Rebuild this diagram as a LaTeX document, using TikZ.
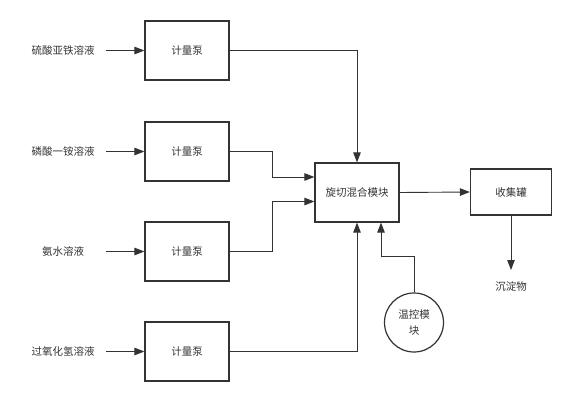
\documentclass[tikz,border=0pt]{standalone}
\usepackage{fontspec}
\setmainfont{Noto Sans CJK SC}
\usetikzlibrary{positioning,arrows.meta,calc}
\definecolor{ink}{HTML}{333333}

\begin{document}
\begin{tikzpicture}[
    x=1pt, y=-1pt,
    font=\fontsize{10.5}{13}\selectfont,
    box/.style={draw=ink, line width=1.2pt, text=ink, minimum width=84pt, minimum height=59pt, inner sep=0pt, align=center},
    src/.style={text=ink, minimum width=86pt, inner sep=0pt},
    arr/.style={-{Triangle[length=10pt, width=7.5pt]}, line width=0.9pt, draw=ink}
]
\useasboundingbox (0,0) rectangle (574,402);

% Feed solutions
\node[src] (s1) at (63,50.5) {硫酸亚铁溶液};
\node[src] (s2) at (63,151.5) {磷酸一铵溶液};
\node[src] (s3) at (63,251.5) {氨水溶液};
\node[src] (s4) at (63,351.5) {过氧化氢溶液};

% Metering pumps
\node[box] (p1) at (187,50.5) {计量泵};
\node[box] (p2) at (187,151.5) {计量泵};
\node[box] (p3) at (187,251.5) {计量泵};
\node[box] (p4) at (187,351.5) {计量泵};

% Mixer, tank, product
\node[box] (mix) at (357,192.5) {旋切混合模块};
\node[box, minimum width=81pt, minimum height=46pt] (tank) at (511,192) {收集罐};
\node[text=ink, anchor=north, inner xsep=0pt, inner ysep=11pt] (prod) at (511,270) {沉淀物};

% Temperature control
\node[circle, draw=ink, line width=1.2pt, text=ink, minimum size=59pt, inner sep=0pt, align=center,
      font=\fontsize{10.5}{16}\selectfont] (temp) at (414,322.5) {温控模\\块};

% Arrows
\draw[arr] (s1.east) -- (p1.west);
\draw[arr] (s2.east) -- (p2.west);
\draw[arr] (s3.east) -- (p3.west);
\draw[arr] (s4.east) -- (p4.west);
\draw[arr] (p1.east) -| (mix.north);
\draw[arr] (p2.east) -- ++(43,0) |- ($(mix.west)+(0,-15.5)$);
\draw[arr] (p3.east) -- ++(43,0) |- ($(mix.west)+(0,9)$);
\draw[arr] (p4.east) -| (mix.south);
\draw[arr] (temp.north) -- ++(0,-36) -| ($(mix.south)+(24,0)$);
\draw[arr] (mix.east) -- (tank.west);
\draw[arr] (tank.south) -- (prod.north);

\end{tikzpicture}
\end{document}
